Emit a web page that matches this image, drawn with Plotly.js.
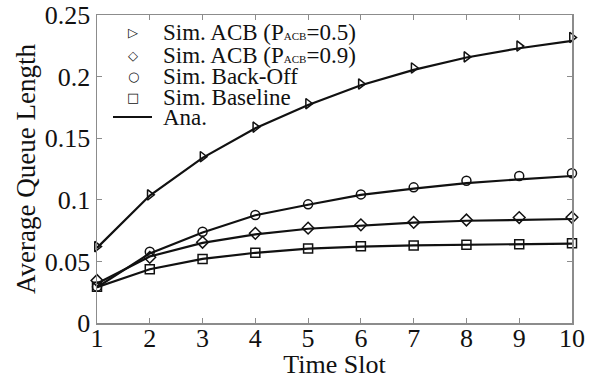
<!DOCTYPE html>
<html>
<head>
<meta charset="utf-8">
<script src="https://cdn.plot.ly/plotly-3.0.1.min.js"></script>
<style>html,body{margin:0;padding:0;background:#fff;}#chart{width:603px;height:379px;}</style>
</head>
<body>
<div id="chart"></div>
<script>
const timeSlots = [1, 2, 3, 4, 5, 6, 7, 8, 9, 10];
const simAcb05 = [0.062, 0.104, 0.135, 0.159, 0.178, 0.194, 0.207, 0.216, 0.2248, 0.2318];
const anaAcb05 = [0.061, 0.1035, 0.134, 0.158, 0.177, 0.193, 0.2055, 0.2155, 0.223, 0.229];
const simAcb09 = [0.0345, 0.0533, 0.0655, 0.0728, 0.077, 0.0797, 0.0817, 0.0836, 0.0856, 0.0858];
const anaAcb09 = [0.032, 0.054, 0.065, 0.072, 0.0765, 0.079, 0.0815, 0.083, 0.0837, 0.0844];
const simBackoff = [0.0295, 0.0578, 0.0741, 0.0877, 0.0963, 0.1044, 0.1101, 0.1155, 0.1193, 0.1215];
const anaBackoff = [0.029, 0.0565, 0.0735, 0.0875, 0.096, 0.104, 0.109, 0.1135, 0.1166, 0.1193];
const simBaseline = [0.0295, 0.0436, 0.052, 0.0571, 0.0604, 0.0622, 0.063, 0.0636, 0.0639, 0.0647];
const anaBaseline = [0.029, 0.0436, 0.052, 0.057, 0.0603, 0.062, 0.063, 0.0636, 0.064, 0.0645];
const legendLabels = [
  'Sim. ACB (P<span style="font-size:11px">ACB</span>=0.5)',
  'Sim. ACB (P<span style="font-size:11px">ACB</span>=0.9)',
  'Sim. Back-Off',
  'Sim. Baseline',
  'Ana.'
];
const legendSymbols = ['▷', '◇', '○', '□'];

const SERIF = '"Liberation Serif", "Times New Roman", serif';
const lineStyle = {color: '#111', width: 2.2};
const mk = (sym) => ({symbol: sym, size: 9, color: '#111', line: {color: '#111', width: 1.5}});

const traces = [
  {x: timeSlots, y: anaAcb05, mode: 'lines', line: lineStyle, showlegend: false},
  {x: timeSlots, y: anaAcb09, mode: 'lines', line: lineStyle, showlegend: false},
  {x: timeSlots, y: anaBackoff, mode: 'lines', line: lineStyle, showlegend: false},
  {x: timeSlots, y: anaBaseline, mode: 'lines', line: lineStyle, showlegend: false},
  {x: timeSlots, y: simAcb05, mode: 'markers', marker: mk('triangle-right-open'), showlegend: false, cliponaxis: false},
  {x: timeSlots, y: simAcb09, mode: 'markers', marker: mk('diamond-open'), showlegend: false, cliponaxis: false},
  {x: timeSlots, y: simBackoff, mode: 'markers', marker: mk('circle-open'), showlegend: false, cliponaxis: false},
  {x: timeSlots, y: simBaseline, mode: 'markers', marker: mk('square-open'), showlegend: false, cliponaxis: false}
];

// legend emulation (pixel rows -> paper coords)
const L = 97, R = 572, T = 15, B = 323;
const px = (p) => (p - L) / (R - L);
const py = (p) => (B - p) / (B - T);
const rowY = [33, 55, 76, 97, 117];
const annotations = [];
legendLabels.forEach((lab, i) => {
  annotations.push({xref: 'paper', yref: 'paper', x: px(161), y: py(rowY[i]), xanchor: 'left', yanchor: 'middle',
    text: lab, showarrow: false, font: {family: SERIF, size: 23, color: '#111'}});
});
legendSymbols.forEach((s, i) => {
  annotations.push({xref: 'paper', yref: 'paper', x: px(133), y: py(rowY[i]), xanchor: 'center', yanchor: 'middle',
    text: s, showarrow: false, font: {family: 'DejaVu Sans', size: 13, color: '#111'}});
});
const shapes = [{type: 'line', xref: 'paper', yref: 'paper', x0: px(113), x1: px(152), y0: py(rowY[4]), y1: py(rowY[4]),
  line: {color: '#111', width: 2.2}}];

const axisCommon = {
  showline: true, linecolor: '#8c8c8c', linewidth: 1.5, mirror: 'ticks',
  ticks: 'inside', ticklen: 5, tickcolor: '#8c8c8c', tickwidth: 1.2,
  showgrid: false, zeroline: false,
  tickfont: {family: SERIF, size: 26, color: '#111'}
};

const layout = {
  width: 603, height: 379,
  margin: {l: L, r: 603 - R, t: T, b: 379 - B},
  paper_bgcolor: '#fff', plot_bgcolor: '#fff',
  showlegend: false,
  font: {family: SERIF, color: '#111'},
  xaxis: Object.assign({}, axisCommon, {range: [1, 10], tickmode: 'array', tickvals: timeSlots,
    ticklabelstandoff: -9,
    title: {text: 'Time Slot', font: {family: SERIF, size: 26, color: '#111'}, standoff: 0}}),
  yaxis: Object.assign({}, axisCommon, {range: [0, 0.25], dtick: 0.05, tick0: 0,
    title: {text: 'Average Queue Length', font: {family: SERIF, size: 27, color: '#111'}, standoff: 1}}),
  annotations: annotations,
  shapes: shapes
};

Plotly.newPlot('chart', traces, layout, {displayModeBar: false, staticPlot: true});
</script>
</body>
</html>
